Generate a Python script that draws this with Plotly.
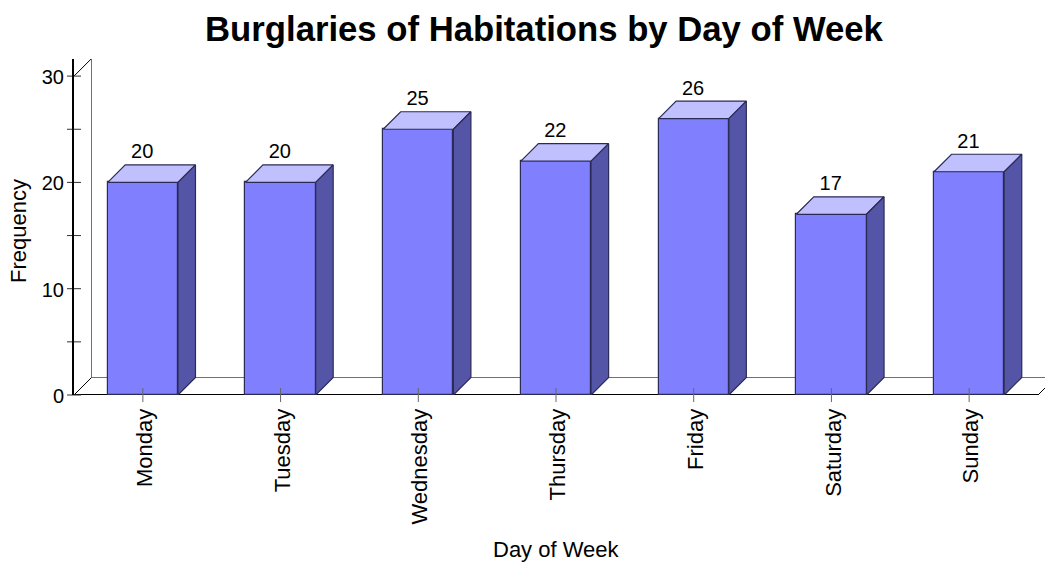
import plotly.graph_objects as go

days = ["Monday", "Tuesday", "Wednesday", "Thursday", "Friday", "Saturday", "Sunday"]
freq = [20, 20, 25, 22, 26, 17, 21]
y_major = [0, 10, 20, 30]
y_all = [0, 5, 10, 15, 20, 25, 30]
title = "Burglaries of Habitations by Day of Week"
FONT = "Liberation Sans"
FRONT, TOP, SIDE, EDGE = "#8080ff", "#c0c0ff", "#5555a8", "#2b2b55"

W, H = 1045, 563
L, T, B = 74, 59, 168
plot_w, plot_h = W - L, H - T - B
px_x = 964 / 7
px_y = 10.63
dep_x = 17.5 / px_x
dep_y = 17.5 / px_y
bar_w = 0.51
xr = [-0.5, -0.5 + plot_w / px_x]
yr = [0, plot_h / px_y]
xs = list(range(len(days)))

fig = go.Figure()
fig.add_trace(go.Bar(x=xs, y=freq, width=bar_w, marker=dict(color=FRONT, line=dict(color=EDGE, width=1.2)),
                     showlegend=False))
tx, ty, sx, sy = [], [], [], []
for i, v in zip(xs, freq):
    a, b = i - bar_w / 2, i + bar_w / 2
    tx += [a, b, b + dep_x, a + dep_x, a, None]
    ty += [v, v, v + dep_y, v + dep_y, v, None]
    sx += [b, b + dep_x, b + dep_x, b, b, None]
    sy += [v, v + dep_y, dep_y, 0, v, None]
for px, py, c in ((tx, ty, TOP), (sx, sy, SIDE)):
    fig.add_trace(go.Scatter(x=px, y=py, mode="lines", fill="toself", fillcolor=c,
                             line=dict(color=EDGE, width=1.2), showlegend=False, hoverinfo="skip"))
fig.add_trace(go.Scatter(x=[i - 0.005 for i in xs], y=[v + dep_y + 0.15 for v in freq], mode="text",
                         text=[str(v) for v in freq], textposition="top center",
                         textfont=dict(family=FONT, size=20, color="#000"),
                         showlegend=False, hoverinfo="skip", cliponaxis=False))
# crossing tick marks
fig.add_trace(go.Scatter(x=[-0.5] * len(y_all), y=y_all, mode="markers", cliponaxis=False,
                         marker=dict(symbol="line-ew", size=10, line=dict(color="#333", width=1)),
                         showlegend=False, hoverinfo="skip"))
fig.add_trace(go.Scatter(x=xs, y=[0] * len(xs), mode="markers", cliponaxis=False,
                         marker=dict(symbol="line-ns", size=10, line=dict(color="#666", width=1)),
                         showlegend=False, hoverinfo="skip"))

x0, x1 = -0.5, 6.5
ymax = 30
def seg(xa, ya, xb, yb, color, width):
    fig.add_shape(type="line", x0=xa, y0=ya, x1=xb, y1=yb, xref="x", yref="y", layer="below",
                  line=dict(color=color, width=width))
# walls and floor
seg(x0 + dep_x, dep_y, x0 + dep_x, ymax + dep_y, "#707070", 1)
seg(x0 + dep_x, dep_y, x1 + dep_x, dep_y, "#707070", 1)
seg(x0, ymax, x0 + dep_x, ymax + dep_y, "#000", 1)
seg(x0, 0, x0 + dep_x, dep_y, "#000", 1)
seg(x1, 0, x1 + dep_x, dep_y, "#000", 1)
seg(x0, 0, x1, 0, "#000", 2)

fig.update_layout(
    width=W, height=H, autosize=False,
    margin=dict(l=L, r=0, t=T, b=B, pad=0),
    paper_bgcolor="white", plot_bgcolor="white",
    font=dict(family=FONT, color="#000"),
    title=dict(text=f"<b>{title}</b>", font=dict(family=FONT, size=34.7, color="#000"),
               x=544 / W, xanchor="center", y=1 - 29 / H, yanchor="middle"),
    bargap=0,
    xaxis=dict(range=xr, tickmode="array", tickvals=xs, ticktext=days, tickangle=-90,
               tickfont=dict(family=FONT, size=22), ticks="outside", tickcolor="rgba(0,0,0,0)", ticklen=4,
               ticklabelshift=2, showgrid=False, zeroline=False, showline=False, automargin=False),
    yaxis=dict(range=yr, tickmode="array", tickvals=y_major, ticks="outside", tickcolor="rgba(0,0,0,0)", ticklen=4,
               ticklabelshift=1, showgrid=False, zeroline=False, showline=True, linecolor="#000", linewidth=2,
               tickfont=dict(family=FONT, size=20), automargin=False),
    annotations=[
        dict(text="Day of Week", xref="paper", yref="paper", x=(556 - L) / plot_w, xanchor="center",
             y=-(549 - 395) / plot_h, yanchor="middle", showarrow=False, font=dict(family=FONT, size=22)),
        dict(text="Frequency", xref="paper", yref="paper", x=-(74 - 18) / plot_w, xanchor="center",
             y=(395 - 231) / plot_h, yanchor="middle", textangle=-90, showarrow=False,
             font=dict(family=FONT, size=22)),
    ],
)
# the page's default 8 px body margin would shift and clip the figure
fig.write_html("out.html", config={"displayModeBar": False},
               post_script="document.documentElement.style.margin='0';document.body.style.margin='0';")
